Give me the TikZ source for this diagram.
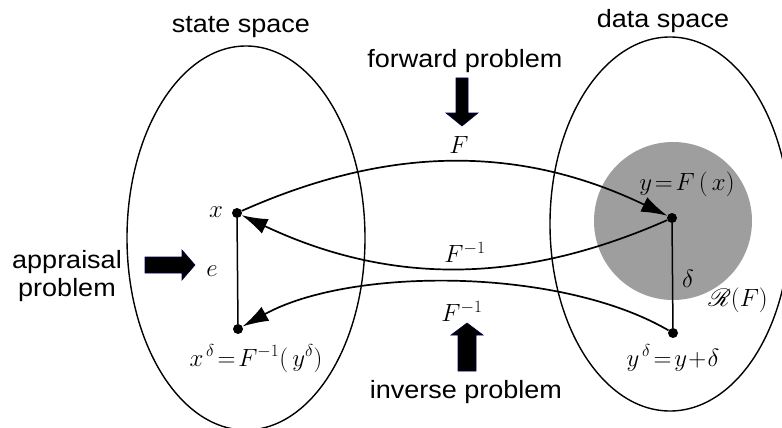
\documentclass[tikz,border=0pt]{standalone}
\usepackage{fontspec}
\setmainfont[FakeStretch=1.08]{Liberation Sans}
\usepackage{mathrsfs}
\usetikzlibrary{arrows.meta, positioning}

\begin{document}
\begin{tikzpicture}[x=1pt, y=-1pt,
    dot/.style={circle, fill=black, inner sep=0pt, minimum size=10pt},
    lbl/.style={font=\fontsize{25}{28}\selectfont, inner sep=0pt},
    mlbl/.style={font=\fontsize{24}{27}\selectfont, inner sep=0pt},
    map/.style={line width=1.7pt, -{Latex[length=26pt,width=16pt]}},
    bigarrow/.style={fill=black, draw=black!70!blue, line width=0.6pt}]

\useasboundingbox (0,0) rectangle (782,428);
\clip (0,0) rectangle (782,428);

% state space and data space
\fill[black!38] (673,221) circle [radius=79pt];
\draw[line width=1.4pt] (246,238) ellipse [x radius=119pt, y radius=192pt];
\draw[line width=1.4pt] (670,224) ellipse [x radius=120pt, y radius=187pt];

\node[dot] (x) at (237,213) {};
\node[dot] (xd) at (238,329) {};
\node[dot] (y) at (672,218) {};
\node[dot] (yd) at (673,333) {};

\draw[line width=1.5pt] (x) -- (xd);
\draw[line width=1.5pt] (y) -- (yd);

\draw[map] (x) .. controls (390,145) and (520,145) .. (y);
\draw[map] (y) .. controls (520,285) and (390,285) .. (x);
\draw[map] (yd) .. controls (560,267) and (350,267) .. (xd);

% block arrows
\filldraw[bigarrow] (456,78) -- (468,78) -- (468,113) -- (478,113) -- (462,126) -- (446,113) -- (456,113) -- cycle;
\filldraw[bigarrow] (458,371) -- (476,371) -- (476,335) -- (483,335) -- (467,323) -- (451,335) -- (458,335) -- cycle;
\filldraw[bigarrow] (145,257) -- (182,257) -- (182,250) -- (195,265) -- (182,280) -- (182,273) -- (145,273) -- cycle;

\node[lbl, anchor=base] (state) at (241,33) {state space};
\node[lbl, anchor=base] (data) at (663,28) {data space};
\node[lbl, anchor=base] (fwd) at (465,67) {forward problem};
\node[lbl, anchor=base] (inv) at (466,398) {inverse problem};
\node[lbl, align=center] (appr) at (67,276) {appraisal\\problem};

\node[mlbl] (Flbl) at (459,145) {$F$};
\node[mlbl] (Finv) at (465,252) {$F^{-1}$};
\node[mlbl] (Finvd) at (462,311) {$F^{-1}$};
\node[mlbl] (xlbl) at (216,212) {$x$};
\node[mlbl] (elbl) at (212,271) {$e$};
\node[mlbl, anchor=base] (xdlbl) at (256,366) {$x^{\,\delta}\!=\!F^{-1}(\,y^{\delta})$};
\node[mlbl] (ylbl) at (687,184) {$y\!=\!F\,(\,x)$};
\node[mlbl, anchor=base] (ydlbl) at (673,366) {$y^{\,\delta}\!=\!y\!+\!\delta$};
\node[mlbl] (dlbl) at (688,279) {$\delta$};
\node[mlbl] (rlbl) at (738,300) {$\mathscr{R}(F)$};
\end{tikzpicture}
\end{document}
